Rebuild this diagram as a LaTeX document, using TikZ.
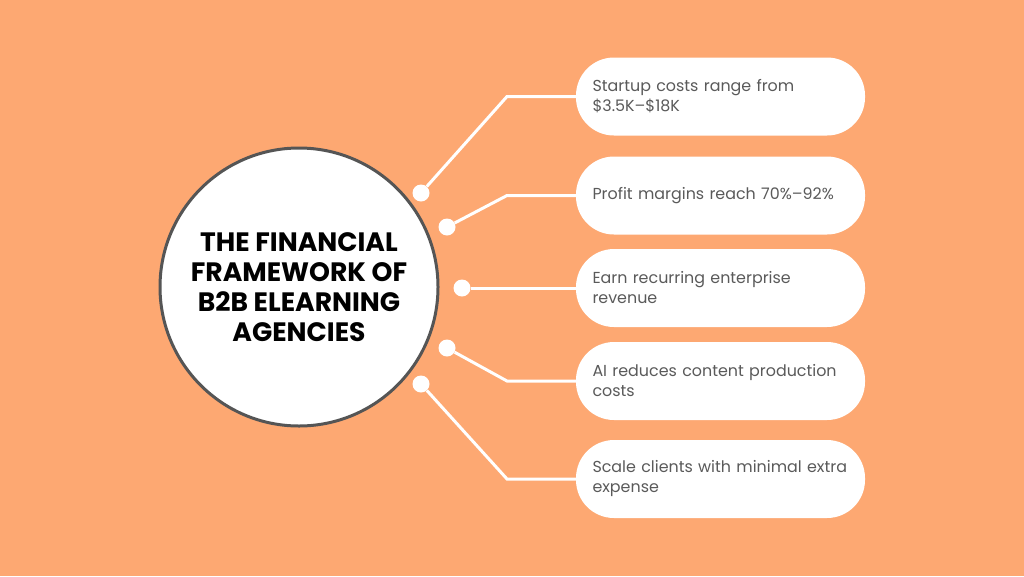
\documentclass[tikz,border=0pt]{standalone}
\usepackage{fontspec}
\setmainfont{Poppins}

\definecolor{bgorange}{HTML}{FDA872}
\definecolor{rimgray}{HTML}{555555}
\definecolor{textgray}{HTML}{5A5A5A}

\tikzset{
  hub/.style={circle, draw=rimgray, line width=3pt, fill=white, minimum size=278pt,
    align=center, font=\bfseries\fontsize{26.6}{30}\selectfont, text=black},
  pill/.style={rectangle, rounded corners=38pt, fill=white, minimum width=289pt,
    minimum height=78pt, text width=260pt, inner xsep=14.5pt, align=left,
    font=\fontsize{15.9}{20}\selectfont, text=textgray},
  dot/.style={circle, fill=white, inner sep=0pt, minimum size=17pt},
  link/.style={white, line width=3pt},
}

\begin{document}
\begin{tikzpicture}[x=1pt,y=-1pt]
  % Background
  \fill[bgorange] (0,0) rectangle (1024,576);
  \useasboundingbox (0,0) rectangle (1024,576);

  % Draw the hub
  \node[hub] (hub) at (299,287) {THE FINANCIAL\\FRAMEWORK OF\\B2B ELEARNING\\AGENCIES};

  % Draw the pills
  \node[pill] (p1) at (720.5,96.5) {\hspace*{2pt}Startup costs range from\\\hspace*{2pt}\$3.5K--\$18K};
  \node[pill] (p2) at (720.5,195.5) {\hspace*{2pt}Profit margins reach 70\%--92\%};
  \node[pill] (p3) at (720.5,288) {\hspace*{2pt}Earn recurring enterprise\\\hspace*{2pt}revenue};
  \node[pill] (p4) at (720.5,381) {\hspace*{2pt}AI reduces content production\\\hspace*{2pt}costs};
  \node[pill] (p5) at (720.5,479) {\hspace*{2pt}Scale clients with minimal extra\\\hspace*{2pt}expense};

  % Dots on the rim
  \node[dot] (d1) at (421,193) {};
  \node[dot] (d2) at (447,227) {};
  \node[dot] (d3) at (462,288) {};
  \node[dot] (d4) at (447,348) {};
  \node[dot] (d5) at (421,384) {};

  % Bends of the links
  \foreach \i in {1,2,4,5} {
    \coordinate (b\i) at (p\i.west -| 507,0);
  }

  % Connect dots to pills
  \foreach \i in {1,2,4,5} {
    \draw[link] (d\i) -- (b\i) -- (p\i.west);
  }
  \draw[link] (d3) -- (p3.west);

\end{tikzpicture}
\end{document}
